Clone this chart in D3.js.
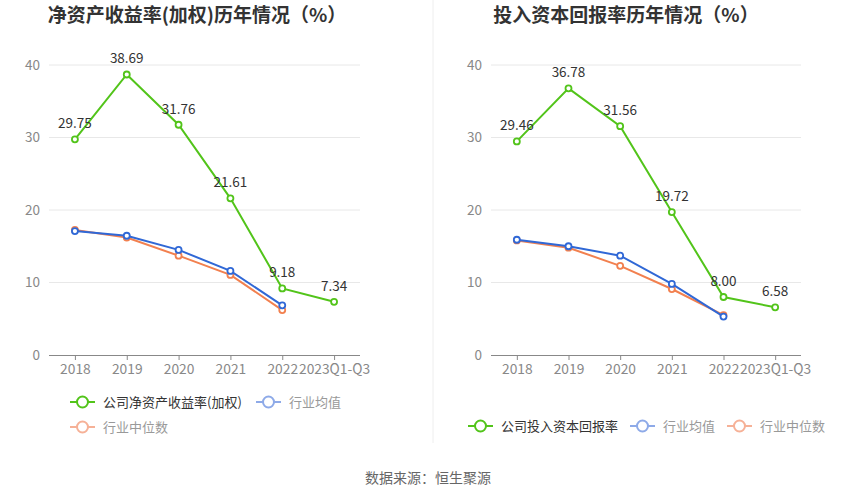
<!DOCTYPE html>
<html><head><meta charset="utf-8">
<script src="https://cdn.jsdelivr.net/npm/d3@7/dist/d3.min.js"></script>
<style>body{margin:0;background:#fff;}svg{display:block;font-family:"Noto Sans CJK SC","Noto Sans",sans-serif;}</style>
</head><body>
<svg id="c" width="857" height="500"></svg>
<script>
const categories = ["2018","2019","2020","2021","2022","2023Q1-Q3"];
const yTicks = [0,10,20,30,40];
const roeCompany = [29.75,38.69,31.76,21.61,9.18,7.34];
const roeMean = [17.1,16.45,14.5,11.6,6.85];
const roeMedian = [17.25,16.2,13.7,11.05,6.2];
const roicCompany = [29.46,36.78,31.56,19.72,8.00,6.58];
const roicMean = [15.9,15.0,13.7,9.8,5.3];
const roicMedian = [15.8,14.8,12.3,9.1,5.5];
const titles = ["净资产收益率(加权)历年情况（%）","投入资本回报率历年情况（%）"];
const legendNames = [["公司净资产收益率(加权)","行业均值","行业中位数"],["公司投入资本回报率","行业均值","行业中位数"]];
const source = "数据来源：恒生聚源";

const colors = {company:"#52c41a", mean:"#3068d6", median:"#f2804f"};
const legendColors = {company:"#52c41a", mean:"#8eaae8", median:"#f6b197"};

const svg = d3.select("#c");
const y = d3.scaleLinear().domain([0,40]).range([355,65]);

svg.append("line").attr("x1",433).attr("x2",433).attr("y1",0).attr("y2",443).attr("stroke","#eeeeee").attr("stroke-width",1);

function panel(x0, x1, titleX, company, mean, median, names, legendLayout){
  const x = d3.scalePoint().domain(categories).range([x0, x1]).padding(0.5);
  const g = svg.append("g");
  g.append("text").attr("x",titleX).attr("y",22).attr("text-anchor","middle")
    .attr("font-size",19).attr("font-weight","bold").attr("fill","#333").text(titles[names.idx]);
  g.selectAll(".grid").data(yTicks.filter(d=>d>0)).join("line")
    .attr("x1",x0).attr("x2",x1).attr("y1",d=>y(d)).attr("y2",d=>y(d))
    .attr("stroke","#e8e8e8").attr("stroke-width",1);
  const ya = g.append("g").attr("transform",`translate(${x0},0)`)
    .call(d3.axisLeft(y).tickValues(yTicks).tickSize(0).tickPadding(9));
  ya.select(".domain").remove();
  ya.selectAll("text").attr("font-size",13.5).attr("fill","#888").attr("font-family","'Noto Sans CJK SC','Noto Sans',sans-serif");
  const xa = g.append("g").attr("transform","translate(0,355)")
    .call(d3.axisBottom(x).tickSizeOuter(0).tickSizeInner(5).tickPadding(4));
  xa.select(".domain").attr("stroke","#888");
  xa.selectAll(".tick line").attr("stroke","#888");
  xa.selectAll("text").attr("font-size",13.8).attr("fill","#888").attr("font-family","'Noto Sans CJK SC','Noto Sans',sans-serif");
  xa.select(".domain").attr("d",`M${x0},0.5H${x1}`);

  const line = d3.line().x((d,i)=>x(categories[i])).y(d=>y(d));
  const series = [
    {vals:median, c:colors.median},
    {vals:mean, c:colors.mean},
    {vals:company, c:colors.company}
  ];
  series.forEach(s=>{
    g.append("path").datum(s.vals).attr("d",line).attr("fill","none").attr("stroke",s.c).attr("stroke-width",2);
    g.selectAll(null).data(s.vals).join("circle")
      .attr("cx",(d,i)=>x(categories[i])).attr("cy",d=>y(d)).attr("r",3)
      .attr("fill","#fff").attr("stroke",s.c).attr("stroke-width",1.8);
  });
  g.selectAll(null).data(company).join("text")
    .attr("x",(d,i)=>x(categories[i])).attr("y",d=>y(d)-11)
    .attr("text-anchor","middle").attr("font-size",13.5).attr("fill","#333")
    .text(d=>d.toFixed(2));

  const keys = ["company","mean","median"];
  legendLayout.forEach((p,i)=>{
    const lg = g.append("g").attr("transform",`translate(${p[0]},${p[1]})`);
    const c = legendColors[keys[i]];
    lg.append("line").attr("x1",0).attr("x2",25).attr("y1",0).attr("y2",0).attr("stroke",c).attr("stroke-width",2);
    lg.append("circle").attr("cx",12.5).attr("cy",0).attr("r",5.5).attr("fill","#fff").attr("stroke",c).attr("stroke-width",2);
    lg.append("text").attr("x",33).attr("y",0).attr("dy","0.35em").attr("font-size",13)
      .attr("fill", i===0 ? "#333" : "#999").text(names.list[i]);
  });
}

panel(49, 360, 197, roeCompany, roeMean, roeMedian, {idx:0, list:legendNames[0]}, [[70,402],[256,402],[70,427]]);
panel(491, 801, 626, roicCompany, roicMean, roicMedian, {idx:1, list:legendNames[1]}, [[468,426],[630,426],[727,426]]);

svg.append("text").attr("x",428).attr("y",483).attr("text-anchor","middle").attr("font-size",14).attr("fill","#666").text(source);
</script>
</body></html>
